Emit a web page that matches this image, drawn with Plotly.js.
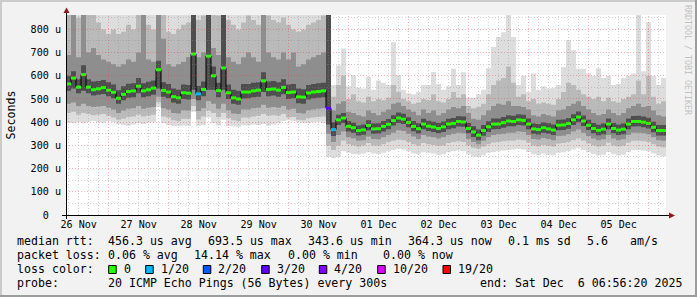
<!DOCTYPE html>
<html>
<head>
<meta charset="utf-8">
<script src="https://cdn.plot.ly/plotly-3.0.1.min.js"></script>
<style>
html,body{margin:0;padding:0;background:#f2f2f2;overflow:hidden}
#chart{width:697px;height:297px}
</style>
</head>
<body>
<div id="chart"></div>
<script>
// ---------------- DATA ----------------
const startTime = Date.UTC(2025, 10, 26, 6, 56, 20);   // graph start (10 days before end)
const endTime   = Date.UTC(2025, 11, 6, 6, 56, 20);    // end: Sat Dec 6 06:56:20 2025
const stepMs = 2 * 3600 * 1000;                         // one value every 2 hours

// median round trip time, microseconds
const medianRtt = [
565,590,551,605,551,540,544,549,538,529,
503,520,532,535,555,535,540,547,626,537,
530,510,505,527,525,694,522,541,685,600,
536,634,527,505,500,530,530,535,538,578,
541,543,538,550,528,530,509,508,526,530,
532,535,460,368,410,418,382,376,364,367,
386,371,372,382,391,407,418,413,399,382,
372,392,383,379,373,380,392,395,403,401,
373,358,344,364,380,392,392,398,405,403,
410,408,392,371,368,376,371,366,387,388,
394,410,422,405,387,373,365,370,392,373,
366,370,392,403,403,400,395,378,364,364];

// lost pings (of 20) per step
const lostPings = [
0,0,0,0,0,0,0,0,0,0, 0,0,0,0,0,0,0,0,0,0,
0,0,0,0,0,0,1,0,0,0, 0,0,0,0,0,0,0,0,0,0,
0,0,0,0,0,0,0,0,0,0, 0,0,3,1,0,0,0,0,0,0,
0,0,0,0,0,0,0,0,0,0, 0,0,0,0,0,0,0,0,0,0,
0,0,0,0,0,0,0,0,0,0, 0,0,0,0,0,0,0,0,0,0,
0,0,0,0,0,0,0,0,0,0, 0,0,0,0,0,0,0,0,0,0];

// smoke: spread of the 20 pings (outer = fastest/slowest ping, inner = pings near the median), microseconds
const pingMax = [
900,900,900,900,900,900,900,900,900,900, 900,900,900,900,900,900,900,900,900,900,
900,900,900,900,900,900,900,900,900,900, 900,900,900,900,900,900,900,900,900,900,
900,900,900,900,900,900,900,900,900,900, 900,900,900,560,645,718,555,602,550,545,
596,540,580,570,560,745,602,540,525,520, 530,560,560,616,565,540,555,630,560,615,
505,505,520,540,632,724,767,788,870,767, 560,600,530,610,540,555,545,548,560,638,
753,710,630,630,610,600,632,590,600,560, 565,590,600,610,870,620,831,600,560,590];
const outerHigh = [
900,900,850,900,900,900,830,800,780,800, 780,790,820,800,900,900,820,800,900,900,
790,780,800,820,830,900,840,860,900,900, 860,900,840,820,800,830,860,840,820,900,
860,840,830,850,820,800,790,800,820,830, 840,860,900,510,560,600,500,520,490,485,
510,490,500,495,505,560,530,500,490,480, 485,500,495,520,490,485,500,530,505,520,
470,460,465,480,520,560,580,590,640,570, 510,520,490,500,480,485,480,475,500,530,
570,560,540,520,510,500,510,490,505,490, 485,500,510,520,580,520,600,510,480,490];
const middleHigh = [
690,900,680,900,700,720,690,670,660,650, 640,650,670,660,700,900,670,660,900,760,
650,640,650,660,680,900,680,700,900,720, 690,900,680,660,650,680,700,680,660,900,
700,680,670,700,670,700,640,650,670,680, 690,700,900,450,480,490,445,440,430,425,
450,440,430,445,455,480,485,470,455,445, 430,455,440,450,430,440,455,465,460,470,
440,415,410,430,450,470,480,475,490,470, 470,465,455,430,425,435,430,425,450,455,
470,480,490,470,455,440,430,435,455,440, 430,440,460,470,480,465,470,450,430,425];
const innerHigh = [
600,620,585,645,585,575,578,582,572,562, 538,555,566,568,590,568,574,580,665,572,
565,545,540,562,560,900,556,575,900,640, 570,900,562,540,535,565,565,570,572,615,
575,578,572,585,562,565,545,542,560,565, 568,570,900,400,432,440,405,398,386,390,
408,394,395,405,414,430,442,436,421,405, 395,415,406,402,396,403,415,418,426,424,
397,382,368,388,404,416,416,422,430,428, 434,432,416,394,392,399,395,390,410,412,
418,434,446,429,411,397,389,394,416,397, 390,394,416,427,428,424,419,402,388,388];
const innerLow = [
535,545,525,535,525,515,518,522,512,503, 480,495,505,508,525,508,512,518,545,510,
503,485,480,500,498,540,495,512,540,540, 508,540,500,480,475,502,503,508,510,530,
512,515,510,520,500,503,482,480,498,503, 505,508,390,340,388,396,360,355,343,346,
364,350,351,360,370,386,396,392,378,361, 351,370,362,358,352,358,370,374,381,380,
352,336,322,342,358,370,371,376,383,382, 388,386,370,350,347,354,350,345,365,366,
372,388,400,384,366,352,344,348,370,352, 345,348,370,381,382,378,373,357,343,343];
const middleLow = [
480,485,470,480,470,465,468,470,462,455, 440,450,458,460,470,458,462,466,510,460,
455,440,438,452,450,500,448,460,490,480, 458,480,452,438,435,455,455,460,462,475,
462,465,462,470,455,458,440,438,452,455, 458,460,350,315,345,360,335,330,320,322,
338,328,326,335,345,355,365,362,350,338, 328,345,338,335,330,335,345,350,355,352,
328,315,305,320,335,345,348,350,355,355, 360,358,345,328,325,332,328,322,340,342,
348,360,368,355,340,330,322,326,345,330, 322,326,345,355,355,352,348,335,322,320];
const outerLow = [
440,445,432,440,435,430,432,435,428,420, 410,415,422,425,432,425,428,432,485,425,
420,408,405,415,415,470,412,425,450,440, 422,440,418,408,405,420,420,424,428,435,
428,430,428,435,420,422,410,408,418,420, 422,425,300,280,300,320,305,300,295,300,
310,300,298,305,315,320,325,322,315,305, 300,310,305,302,298,300,310,315,318,315,
300,290,285,295,305,312,315,318,320,320, 325,322,312,300,296,302,298,295,308,310,
315,322,330,320,308,300,295,298,312,300, 295,298,312,320,320,318,315,305,295,292];
const pingMin = [
398,396,400,395,402,405,400,398,404,400, 392,388,385,390,395,392,398,400,465,395,
388,384,382,386,384,445,385,388,420,395, 386,410,384,382,380,388,386,390,388,392,
385,390,395,405,408,405,400,398,396,400, 402,398,250,245,250,275,268,262,262,265,
270,265,262,268,275,280,285,282,275,265, 262,270,268,265,260,262,270,275,278,275,
262,252,250,258,268,272,275,278,280,282, 285,282,272,262,258,265,260,258,268,270,
275,282,290,280,270,262,256,260,272,262, 256,260,272,280,280,278,275,265,256,252];

const dayLabels = ["26 Nov","27 Nov","28 Nov","29 Nov","30 Nov","01 Dec","02 Dec","03 Dec","04 Dec","05 Dec"];
const yTickValues = [0,100,200,300,400,500,600,700,800];
const yTickLabels = ["0","100 u","200 u","300 u","400 u","500 u","600 u","700 u","800 u"];

const lossThresholds = [0,1,2,3,4,10,19];
const lossLabels = ["0","1/20","2/20","3/20","4/20","10/20","19/20"];
const lossColors = ["#26ff00","#00b8ff","#0059ff","#5e00ff","#7e00ff","#dd00ff","#ff0000"];

const rowHeads = ["median rtt:","packet loss:","loss color:","probe:"];
const rttStats = ["456.3 us avg","693.5 us max","343.6 us min","364.3 us now","0.1 ms sd","5.6","am/s"];
const lossStats = ["0.06 % avg","14.14 % max","0.00 % min","0.00 % now"];
const probeText = "20 ICMP Echo Pings (56 Bytes) every 300s";
const endText = "end: Sat Dec  6 06:56:20 2025";
const watermark = "RRDTOOL / TOBI OETIKER";

// ---------------- LAYOUT CONSTANTS ----------------
const PL = 66, PR = 666, PT = 15, PB = 215;     // plot area in pixels
const yMax = 862;
const px = x => (x - PL) / (PR - PL);
const py = y => (PB - y) / (PB - PT);
const MONO = "DejaVu Sans Mono, monospace";
const nb = s => s.replace(/ /g, "\u00a0");

const bandColors = ["#dddddd", "#bababa", "#8e8e8e", "#4e4e4e"];
const rowY = [241.3, 255.3, 269.3, 283];
const rttX = [107.3, 206.7, 306.7, 407, 507, 586.3, 628.7];
const lossX = [107.3, 193.3, 286.7, 382];
const lossBoxX = [108.7, 145.7, 203.3, 261.7, 319.3, 377.7, 443];
const lossLabelX = [123.3, 160, 217.3, 276, 333.3, 392, 457];

// ---------------- TRACES ----------------
const times = medianRtt.map((_, i) => startTime + i * stepMs);
const stepX = times.concat([endTime]);
const stepY = arr => arr.concat([arr[arr.length - 1]]);

const traces = [];
const bands = [[pingMin, pingMax], [outerLow, outerHigh], [middleLow, middleHigh], [innerLow, innerHigh]];
bands.forEach((b, k) => {
  traces.push({x: stepX, y: stepY(b[0]), mode: "lines", line: {width: 0, shape: "hv"}, hoverinfo: "skip", showlegend: false});
  traces.push({x: stepX, y: stepY(b[1]), mode: "lines", line: {width: 0, shape: "hv"}, fill: "tonexty",
               fillcolor: bandColors[k], hoverinfo: "skip", showlegend: false});
});
traces.push({x: stepX, y: stepY(medianRtt), mode: "lines", line: {color: "#000000", width: 1, shape: "hv"},
             hoverinfo: "skip", showlegend: false});

function lossIndex(n) { let k = 0; lossThresholds.forEach((t, j) => { if (n >= t) k = j; }); return k; }
lossColors.forEach((col, k) => {
  const xs = [], ys = [];
  medianRtt.forEach((m, i) => {
    if (lossIndex(lostPings[i]) === k) { xs.push(times[i], times[i] + stepMs, null); ys.push(m, m, null); }
  });
  if (xs.length) traces.push({x: xs, y: ys, mode: "lines", line: {color: col, width: 3}, connectgaps: false,
                              hoverinfo: "skip", showlegend: false});
});

// ---------------- SHAPES ----------------
const shapes = [];
const snap = p => Math.round(p - 0.5) + 0.5;
const tPix = t => PL + (t - startTime) / (endTime - startTime) * (PR - PL);
const vPix = v => PB - v / yMax * (PB - PT);
const gridMajor = "rgba(235,60,60,0.38)", gridMinor = "rgba(140,140,140,0.38)";
for (let v = 50; v < yMax; v += 50) {
  const y = py(snap(vPix(v)));
  shapes.push({type: "line", xref: "paper", yref: "paper", x0: 0, x1: 1, y0: y, y1: y, layer: "above",
               line: {color: v % 100 === 0 ? gridMajor : gridMinor, width: 1, dash: "1px,2px"}});
}
const fourH = 4 * 3600 * 1000;
for (let t = Math.ceil(startTime / fourH) * fourH; t < endTime; t += fourH) {
  const major = new Date(t).getUTCHours() === 0;
  const x = px(snap(tPix(t)));
  shapes.push({type: "line", xref: "paper", yref: "paper", x0: x, x1: x, y0: 0, y1: 1, layer: "above",
               line: {color: major ? gridMajor : gridMinor, width: 1, dash: "1px,2px"}});
}
// axes
shapes.push({type: "line", xref: "paper", yref: "paper", x0: px(62), x1: px(670), y0: py(215.5), y1: py(215.5),
             layer: "above", line: {color: "#000", width: 1}});
shapes.push({type: "line", xref: "paper", yref: "paper", x0: px(66.5), x1: px(66.5), y0: py(219), y1: py(12),
             layer: "above", line: {color: "#000", width: 1}});
const arrowCol = "#8b1a1a";
shapes.push({type: "path", xref: "paper", yref: "paper", layer: "above", fillcolor: arrowCol, line: {width: 0},
  path: `M ${px(63.5)},${py(13)} L ${px(69.5)},${py(13)} L ${px(66.5)},${py(7.5)} Z`});
shapes.push({type: "path", xref: "paper", yref: "paper", layer: "above", fillcolor: arrowCol, line: {width: 0},
  path: `M ${px(669)},${py(212.5)} L ${px(669)},${py(218.5)} L ${px(675)},${py(215.5)} Z`});
// legend colour boxes
lossColors.forEach((col, k) => {
  shapes.push({type: "rect", xref: "paper", yref: "paper", x0: px(lossBoxX[k]), x1: px(lossBoxX[k] + 7.5),
               y0: py(273.5), y1: py(265.5), fillcolor: col, line: {color: "#000", width: 1}});
});
// frame
shapes.push({type: "line", xref: "paper", yref: "paper", x0: px(0), x1: px(697), y0: py(1), y1: py(1), line: {color: "#cbcbcb", width: 2}});
shapes.push({type: "line", xref: "paper", yref: "paper", x0: px(1), x1: px(1), y0: py(0), y1: py(297), line: {color: "#cbcbcb", width: 2}});
shapes.push({type: "line", xref: "paper", yref: "paper", x0: px(0), x1: px(697), y0: py(296), y1: py(296), line: {color: "#9c9c9c", width: 2}});
shapes.push({type: "line", xref: "paper", yref: "paper", x0: px(696), x1: px(696), y0: py(0), y1: py(297), line: {color: "#9c9c9c", width: 2}});

// ---------------- ANNOTATIONS ----------------
const annotations = [];
function txt(s, x, y, extra) {
  annotations.push(Object.assign({text: nb(s), xref: "paper", yref: "paper", x: px(x), y: py(y), xanchor: "left",
    yanchor: "middle", showarrow: false, borderpad: 0, font: {family: MONO, size: 11.6, color: "#000"}}, extra || {}));
}
rowHeads.forEach((h, r) => txt(h, 16, rowY[r]));
rttStats.forEach((s, k) => txt(s, rttX[k], rowY[0]));
lossStats.forEach((s, k) => txt(s, lossX[k], rowY[1]));
lossLabels.forEach((s, k) => txt(s, lossLabelX[k], rowY[2]));
txt(probeText, 107.3, rowY[3]);
txt(endText, 478.7, rowY[3]);
annotations.push({text: nb(watermark), xref: "paper", yref: "paper", x: px(688), y: py(60), xanchor: "center",
  yanchor: "middle", textangle: 90, showarrow: false, font: {family: MONO, size: 8.3, color: "#c2c2c2"}});

// ---------------- LAYOUT ----------------
const noonTicks = dayLabels.map((_, k) => Date.UTC(2025, 10, 26 + k, 12, 0, 0));
const layout = {
  width: 697, height: 297,
  margin: {l: PL, r: 697 - PR, t: PT, b: 297 - PB, pad: 0},
  paper_bgcolor: "#f2f2f2", plot_bgcolor: "#ffffff",
  showlegend: false,
  font: {family: MONO, color: "#000"},
  xaxis: {type: "date", range: [startTime, endTime], tickmode: "array", tickvals: noonTicks, ticktext: dayLabels,
          showgrid: false, zeroline: false, showline: false, ticks: "", ticklabelstandoff: 2,
          tickfont: {family: MONO, size: 10.1, color: "#000"}, fixedrange: true},
  yaxis: {range: [0, yMax], tickmode: "array", tickvals: yTickValues,
          ticktext: yTickLabels.map(s => s === "0" ? "0\u00a0\u00a0" : nb(s)),
          showgrid: false, zeroline: false, showline: false, ticks: "", ticklabelstandoff: 4,
          tickfont: {family: MONO, size: 10.1, color: "#000"}, fixedrange: true,
          title: {text: "Seconds", font: {family: MONO, size: 11.6, color: "#000"}, standoff: 12}},
  shapes: shapes,
  annotations: annotations
};

Plotly.newPlot("chart", traces, layout, {staticPlot: true, displayModeBar: false});
</script>
</body>
</html>
